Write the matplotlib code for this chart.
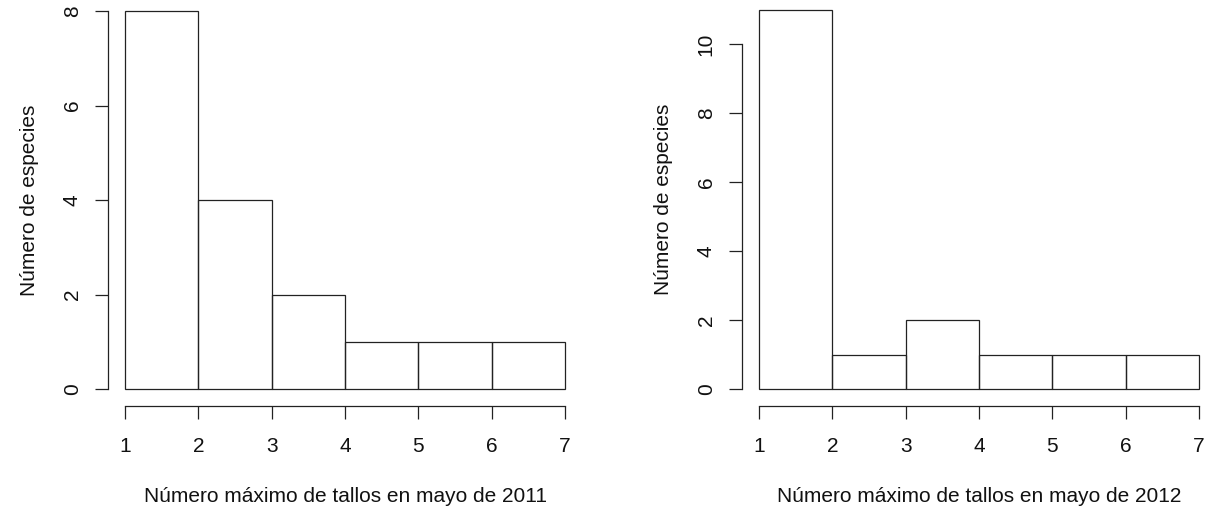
import numpy as np
import matplotlib.pyplot as plt

plt.rcParams['font.family'] = ['Liberation Sans', 'DejaVu Sans']

# bin edges and counts per year
edges = [1, 2, 3, 4, 5, 6, 7]
counts_2011 = [8, 4, 2, 1, 1, 1]
counts_2012 = [11, 1, 2, 1, 1, 1]
xticks = [1, 2, 3, 4, 5, 6, 7]
yticks_2011 = [0, 2, 4, 6, 8]
yticks_2012 = [0, 2, 4, 6, 8, 10]
xlabels = ['Número máximo de tallos en mayo de 2011',
           'Número máximo de tallos en mayo de 2012']
ylabel = 'Número de especies'

W, H = 1207, 512
fig = plt.figure(figsize=(W / 100, H / 100), dpi=100)

def r_hist(rect, counts, yticks, ylim, xlabel):
    ax = fig.add_axes(rect)
    e = np.array(edges)
    ax.bar(e[:-1], counts, width=np.diff(e), align='edge', fill=False,
           edgecolor='#222222', linewidth=0.9, clip_on=False)
    ax.set_xlim(edges[0], edges[-1])
    ax.set_ylim(*ylim)
    for s in ['top', 'right']:
        ax.spines[s].set_visible(False)
    for s in ['left', 'bottom']:
        ax.spines[s].set_position(('outward', 12.2))
        ax.spines[s].set_linewidth(0.9)
        ax.spines[s].set_color('#222222')
    ax.spines['bottom'].set_bounds(edges[0], edges[-1])
    ax.spines['left'].set_bounds(yticks[0], yticks[-1])
    ax.set_xticks(xticks)
    ax.set_yticks(yticks)
    ax.tick_params(length=9.4, width=0.9, color='#222222', labelsize=15,
                   labelcolor='#111111')
    ax.tick_params(axis='x', pad=13)
    ax.tick_params(axis='y', pad=9.5)
    for t in ax.get_yticklabels():
        t.set_rotation(90)
        t.set_va('center')
    ax.set_xlabel(xlabel, fontsize=15, labelpad=22.5, color='#111111')
    ax.set_ylabel(ylabel, fontsize=15, labelpad=17, color='#111111')
    return ax

# left panel: x 1..7 -> px 125..565, y 0..8 -> px 389..11
r_hist([125 / W, (H - 389) / H, 440 / W, 378 / H],
       counts_2011, yticks_2011, (0, 8), xlabels[0])
# right panel: x 1..7 -> px 759..1199, y 0..11 -> px 389..9.5
r_hist([759 / W, (H - 389) / H, 440 / W, 379.5 / H],
       counts_2012, yticks_2012, (0, 11), xlabels[1])

fig.savefig('out.png', dpi=100, facecolor='white')
